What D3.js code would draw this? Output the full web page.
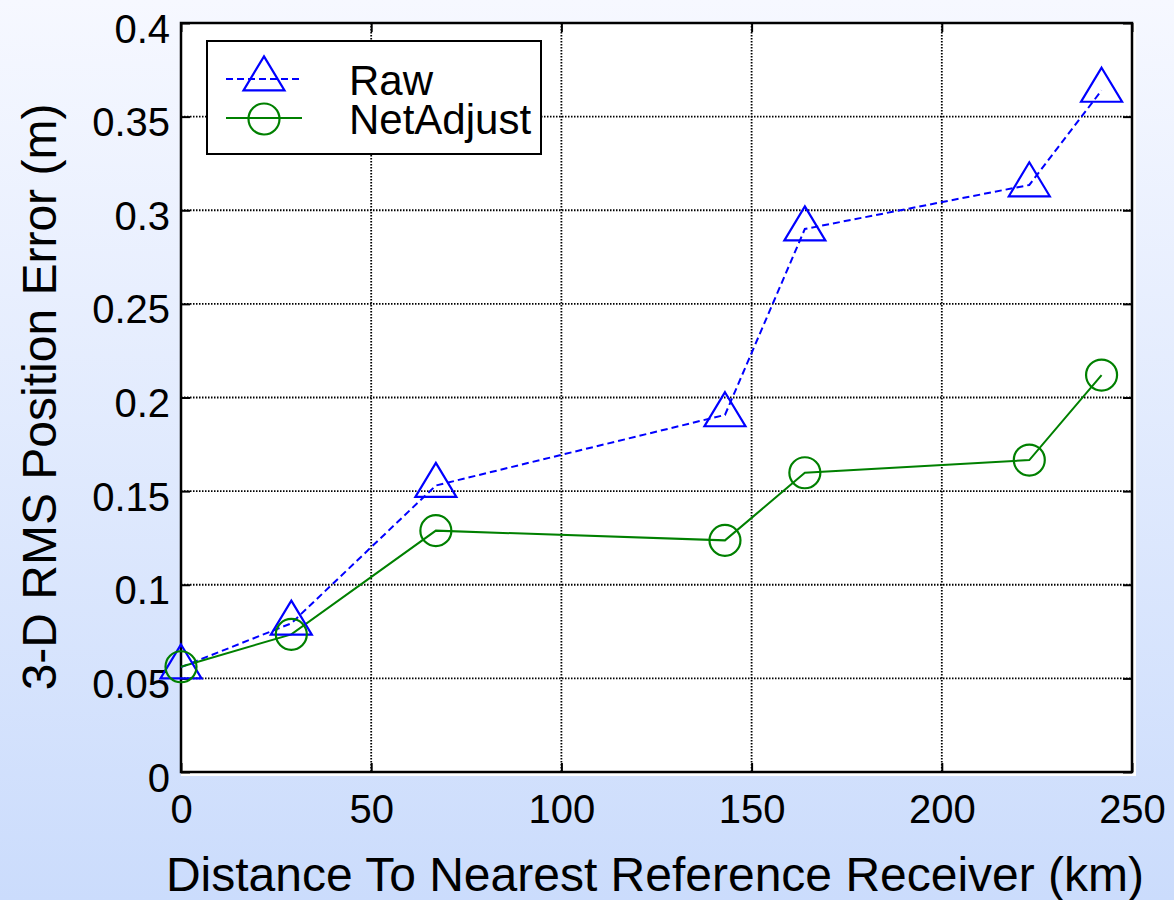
<!DOCTYPE html>
<html>
<head>
<meta charset="utf-8">
<script src="https://cdn.jsdelivr.net/npm/d3@7"></script>
<style>
  html, body { margin: 0; padding: 0; }
  body { width: 1174px; height: 900px; overflow: hidden; }
  svg { display: block; font-family: "Liberation Sans", Arial, Helvetica, sans-serif; }
</style>
</head>
<body>
<svg id="chart" width="1174" height="900"></svg>
<script>
// Distance to nearest reference receiver (km)
const distances = [0, 29, 67, 143, 164, 223, 242];
// 3-D RMS position error (m)
const rawError = [0.056, 0.0794, 0.153, 0.1907, 0.290, 0.3135, 0.364];
const netAdjustError = [0.0562, 0.0735, 0.1289, 0.1237, 0.1598, 0.1666, 0.212];

const xTicks = [0, 50, 100, 150, 200, 250];
const yTicks = [0, 0.05, 0.1, 0.15, 0.2, 0.25, 0.3, 0.35, 0.4];
const yTickLabels = ["0", "0.05", "0.1", "0.15", "0.2", "0.25", "0.3", "0.35", "0.4"];
const seriesNames = ["Raw", "NetAdjust"];

const W = 1174, H = 900;
const plot = { left: 181, top: 23, right: 1132, bottom: 772 };

const svg = d3.select("#chart");

// Background: soft vertical gradient
const defs = svg.append("defs");
const grad = defs.append("linearGradient")
  .attr("id", "bg").attr("x1", 0).attr("y1", 0).attr("x2", 0).attr("y2", 1);
grad.append("stop").attr("offset", "0%").attr("stop-color", "#f6f8ff");
grad.append("stop").attr("offset", "100%").attr("stop-color", "#cbdcfc");
svg.append("rect").attr("width", W).attr("height", H).attr("fill", "url(#bg)");

const x = d3.scaleLinear().domain([0, 250]).range([plot.left, plot.right]);
const y = d3.scaleLinear().domain([0, 0.4]).range([plot.bottom, plot.top]);

// Plot area
svg.append("rect")
  .attr("x", plot.left).attr("y", plot.top)
  .attr("width", plot.right - plot.left + 4)
  .attr("height", plot.bottom - plot.top + 4)
  .attr("fill", "#ffffff");

// Dotted grid
const grid = svg.append("g").attr("stroke", "#000").attr("stroke-width", 1.8)
  .attr("stroke-dasharray", "1.5,1.5");
grid.selectAll("line.gx").data(xTicks.slice(1, -1)).join("line")
  .attr("x1", d => x(d)).attr("x2", d => x(d))
  .attr("y1", plot.top).attr("y2", plot.bottom);
grid.selectAll("line.gy").data(yTicks.slice(1, -1)).join("line")
  .attr("y1", d => y(d)).attr("y2", d => y(d))
  .attr("x1", plot.left).attr("x2", plot.right);

// Axes with inward ticks on all four sides
const tickLen = 9;
const axisFont = 40;
const bottomAxis = d3.axisBottom(x).tickValues(xTicks).tickSize(-tickLen).tickPadding(0).tickFormat(d3.format("d"));
const topAxis = d3.axisTop(x).tickValues(xTicks).tickSize(-tickLen).tickFormat("");
const leftAxis = d3.axisLeft(y).tickValues(yTicks).tickSize(-tickLen)
  .tickFormat((d, i) => yTickLabels[i]);
const rightAxis = d3.axisRight(y).tickValues(yTicks).tickSize(-tickLen).tickFormat("");

function styleAxis(g) {
  g.select(".domain").remove();
  g.selectAll(".tick line").attr("stroke", "#000").attr("stroke-width", 2);
  g.selectAll(".tick text").attr("fill", "#000").attr("font-size", axisFont)
    .attr("font-family", "Liberation Sans, Arial, sans-serif");
}

const gB = svg.append("g").attr("transform", `translate(0,${plot.bottom})`).call(bottomAxis).call(styleAxis);
gB.selectAll(".tick text").attr("y", 51).attr("dy", null);
const gT = svg.append("g").attr("transform", `translate(0,${plot.top})`).call(topAxis).call(styleAxis);
const gL = svg.append("g").attr("transform", `translate(${plot.left},0)`).call(leftAxis).call(styleAxis);
gL.selectAll(".tick text").attr("x", -11).attr("dy", 19).attr("text-anchor", "end");
const gR = svg.append("g").attr("transform", `translate(${plot.right},0)`).call(rightAxis).call(styleAxis);

// Axes frame
svg.append("rect")
  .attr("x", plot.left).attr("y", plot.top)
  .attr("width", plot.right - plot.left).attr("height", plot.bottom - plot.top)
  .attr("fill", "none").attr("stroke", "#000").attr("stroke-width", 2.5);

// Axis titles
svg.append("text")
  .attr("x", 655).attr("y", 891)
  .attr("text-anchor", "middle").attr("font-size", 48).attr("fill", "#000")
  .text("Distance To Nearest Reference Receiver (km)");
svg.append("text")
  .attr("transform", `translate(56,397) rotate(-90)`)
  .attr("text-anchor", "middle").attr("font-size", 48).attr("fill", "#000")
  .text("3-D RMS Position Error (m)");

// Series
const rawPts = distances.map((d, i) => [d, rawError[i]]);
const netPts = distances.map((d, i) => [d, netAdjustError[i]]);
const line = d3.line().x(d => x(d[0])).y(d => y(d[1]));

const RAW = "#0000ff", NET = "#008000";
const triW = 41, triH = 34, circR = 15.5;

function triPath(cx, cy) {
  // centroid-anchored upward triangle
  const top = cy - triH * 2 / 3, base = cy + triH / 3;
  return `M${cx},${top}L${cx + triW / 2},${base}L${cx - triW / 2},${base}Z`;
}

svg.append("path").datum(rawPts).attr("d", line)
  .attr("fill", "none").attr("stroke", RAW).attr("stroke-width", 2)
  .attr("stroke-dasharray", "7,4");
svg.append("path").datum(netPts).attr("d", line)
  .attr("fill", "none").attr("stroke", NET).attr("stroke-width", 2);

svg.append("g").selectAll("path").data(rawPts).join("path")
  .attr("d", d => triPath(x(d[0]), y(d[1])))
  .attr("fill", "none").attr("stroke", RAW).attr("stroke-width", 2.2);
svg.append("g").selectAll("circle").data(netPts).join("circle")
  .attr("cx", d => x(d[0])).attr("cy", d => y(d[1])).attr("r", circR)
  .attr("fill", "none").attr("stroke", NET).attr("stroke-width", 2.2);

// Legend
const lg = svg.append("g");
lg.append("rect").attr("x", 207).attr("y", 41).attr("width", 334).attr("height", 113)
  .attr("fill", "#fff").attr("stroke", "#000").attr("stroke-width", 2);
const legendRows = [
  { name: seriesNames[0], color: RAW, dash: "7,4", y: 79, marker: "tri" },
  { name: seriesNames[1], color: NET, dash: null, y: 118, marker: "circ" }
];
legendRows.forEach(r => {
  lg.append("line").attr("x1", 226).attr("x2", 302).attr("y1", r.y).attr("y2", r.y)
    .attr("stroke", r.color).attr("stroke-width", 2)
    .attr("stroke-dasharray", r.dash);
  if (r.marker === "tri") {
    lg.append("path").attr("d", triPath(264, r.y)).attr("fill", "none")
      .attr("stroke", r.color).attr("stroke-width", 2.2);
  } else {
    lg.append("circle").attr("cx", 264).attr("cy", r.y + 1).attr("r", circR)
      .attr("fill", "none").attr("stroke", r.color).attr("stroke-width", 2.2);
  }
  lg.append("text").attr("x", 349).attr("y", r.y + 16)
    .attr("font-size", 42).attr("fill", "#000").text(r.name);
});
</script>
</body>
</html>
